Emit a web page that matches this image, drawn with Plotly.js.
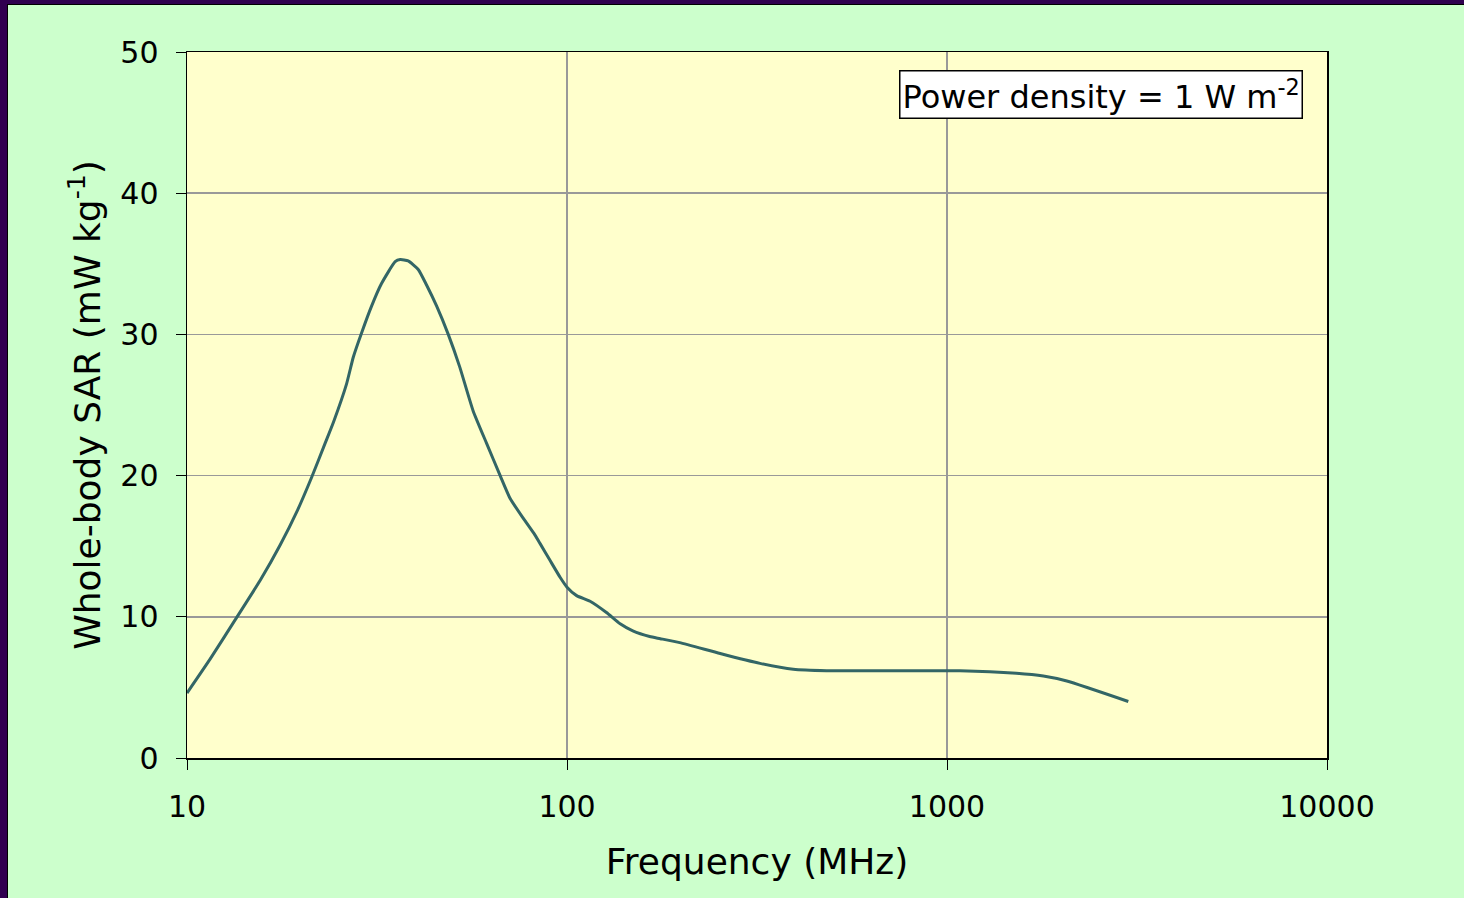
<!DOCTYPE html>
<html>
<head>
<meta charset="utf-8">
<script src="https://cdn.plot.ly/plotly-3.0.1.min.js"></script>
<style>
  html, body { margin: 0; padding: 0; background: #300050; width: 1464px; height: 898px; overflow: hidden; }
  #frame { position: absolute; left: 7px; top: 4px; width: 1457px; height: 894px;
           border-left: 1px solid #000; border-top: 1px solid #000; background: #CCFFCC; }
  #chart { width: 1456px; height: 893px; }
</style>
</head>
<body>
<div id="frame"><div id="chart"></div></div>
<script>
// Frequency (MHz) and whole-body SAR (mW/kg)
const frequency = [10, 11.5, 13.4, 15.6, 17.6, 19.5, 21.3, 23.1, 24.3, 26.3, 27.4, 28.8, 30.6, 32.5,
  35.3, 36.4, 38.2, 40.6, 42.7, 45.4, 48.7, 52.2, 56.6, 61.4, 66.7, 70.8, 76.6, 82.3, 84.9, 90.2,
  95.9, 100, 106, 115, 127, 138, 149, 165, 176, 198, 253, 322, 394, 482, 752, 1081, 1523, 1793, 2067, 3000];
const sar = [4.6, 7.0, 9.8, 12.6, 15.1, 17.5, 19.9, 22.3, 23.8, 26.5, 28.4, 30.1, 32.0, 33.6,
  35.15, 35.3, 35.2, 34.6, 33.5, 32.0, 30.0, 27.7, 24.6, 22.3, 20.0, 18.4, 17.0, 15.8, 15.2, 14.0,
  12.8, 12.1, 11.5, 11.1, 10.3, 9.5, 9.0, 8.6, 8.45, 8.17, 7.4, 6.7, 6.28, 6.18, 6.18, 6.18, 6.0, 5.8, 5.45, 4.0];

const xTickVals = [10, 100, 1000, 10000];
const xTickText = ['10', '100', '1000', '10000'];
const yTickVals = [0, 10, 20, 30, 40, 50];

const xTitle = 'Frequency (MHz)';
const yTitle = 'Whole-body SAR (mW kg<sup>-1</sup>)';
const noteText = 'Power density = 1 W m<sup>-2</sup>';

const font = 'DejaVu Sans, Verdana, sans-serif';

const trace = {
  x: frequency, y: sar, type: 'scatter', mode: 'lines',
  line: { color: '#336666', width: 3, shape: 'spline', smoothing: 0.5 },
  hoverinfo: 'x+y'
};

const layout = {
  width: 1456, height: 893,
  paper_bgcolor: '#CCFFCC', plot_bgcolor: '#FFFFCC',
  margin: { l: 179, r: 137, t: 47, b: 140 },
  font: { family: font, size: 30, color: '#000' },
  showlegend: false,
  xaxis: {
    type: 'log', range: [1, 4],
    tickvals: xTickVals, ticktext: xTickText,
    showgrid: true, gridcolor: '#999999', gridwidth: 1.5,
    ticks: 'outside', ticklen: 10, tickwidth: 1, tickcolor: '#000',
    showline: true, linecolor: '#000', linewidth: 1.5, mirror: true,
    zeroline: false, ticklabelstandoff: 11,
    tickfont: { family: font, size: 30, color: '#000' },
    title: { text: xTitle, font: { family: font, size: 36, color: '#000' }, standoff: 26 }
  },
  yaxis: {
    range: [0, 50], tickvals: yTickVals,
    showgrid: true, gridcolor: '#999999', gridwidth: 1.5,
    ticks: 'outside', ticklen: 10, tickwidth: 1, tickcolor: '#000',
    showline: true, linecolor: '#000', linewidth: 1.5, mirror: true,
    zeroline: false, ticklabelstandoff: 11,
    tickfont: { family: font, size: 30, color: '#000' },
    title: { text: yTitle, font: { family: font, size: 36, color: '#000' }, standoff: 8 }
  },
  annotations: [{
    xref: 'paper', yref: 'paper', x: 0.979, y: 0.974, xanchor: 'right', yanchor: 'top',
    text: noteText, showarrow: false, align: 'left',
    font: { family: font, size: 32, color: '#000' },
    bgcolor: '#FFFFFF', bordercolor: '#000', borderwidth: 1.5, borderpad: 2
  }]
};

Plotly.newPlot('chart', [trace], layout, { displayModeBar: false, staticPlot: true });
</script>
</body>
</html>
